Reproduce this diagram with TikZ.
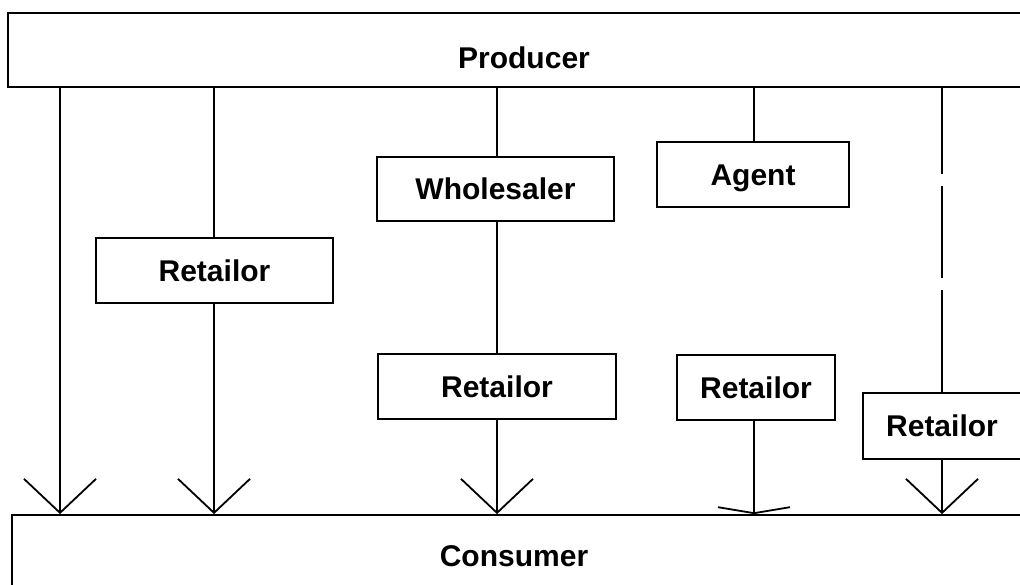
\documentclass[tikz,border=0pt]{standalone}
\usepackage{fontspec}
\setmainfont{Liberation Sans}
\usetikzlibrary{arrows.meta}

\begin{document}
\begin{tikzpicture}[x=1pt, y=-1pt, line width=1.8pt,
    box/.style={draw, inner sep=0pt, font=\fontsize{30}{36}\selectfont\bfseries, text height=21.5pt, text depth=0pt},
    sell/.style={-{Straight Barb[length=34pt,width=72pt]}},
    flat/.style={-{Straight Barb[length=6pt,width=72pt]}}]
    \useasboundingbox (0,0) rectangle (1020,584);

    % 箱を置く
    \node[box, minimum width=1032pt, text height=55pt, text depth=19pt, anchor=base] (prod) at (524,68) {Producer};
    \node[box, minimum width=1028pt, minimum height=82pt] (cons) at (526,556) {\hspace*{-24pt}Consumer};
    \node[box, minimum width=237pt, minimum height=65pt] (ret1) at (214.5,270.5) {Retailor};
    \node[box, minimum width=237pt, minimum height=64pt] (whole) at (495.5,189) {Wholesaler};
    \node[box, minimum width=238pt, minimum height=65pt] (ret2) at (497,386.5) {Retailor};
    \node[box, minimum width=192pt, minimum height=65pt] (agent) at (753,174.5) {Agent};
    \node[box, minimum width=158pt, minimum height=65pt] (ret3) at (756,387.5) {Retailor};
    \node[box, minimum width=158pt, minimum height=66pt] (ret4) at (942,426) {Retailor};

    % 線の位置
    \coordinate (l1) at (60,0);
    \coordinate (l2) at (214,0);
    \coordinate (l3) at (497,0);
    \coordinate (l4) at (754,0);
    \coordinate (l5) at (942,0);

    % 線を引く
    \draw[sell] (prod.south -| l1) -- (cons.north -| l1);
    \draw (prod.south -| l2) -- (ret1.north -| l2);
    \draw[sell] (ret1.south -| l2) -- (cons.north -| l2);
    \draw (prod.south -| l3) -- (whole.north -| l3);
    \draw (whole.south -| l3) -- (ret2.north -| l3);
    \draw[sell] (ret2.south -| l3) -- (cons.north -| l3);
    \draw (prod.south -| l4) -- (agent.north -| l4);
    \draw[flat] (ret3.south -| l4) -- (cons.north -| l4);
    \draw[dash pattern=on 86pt off 12pt on 92pt off 12pt on 200pt] (prod.south -| l5) -- (ret4.north -| l5);
    \draw[sell] (ret4.south -| l5) -- (cons.north -| l5);

  \end{tikzpicture}
\end{document}
